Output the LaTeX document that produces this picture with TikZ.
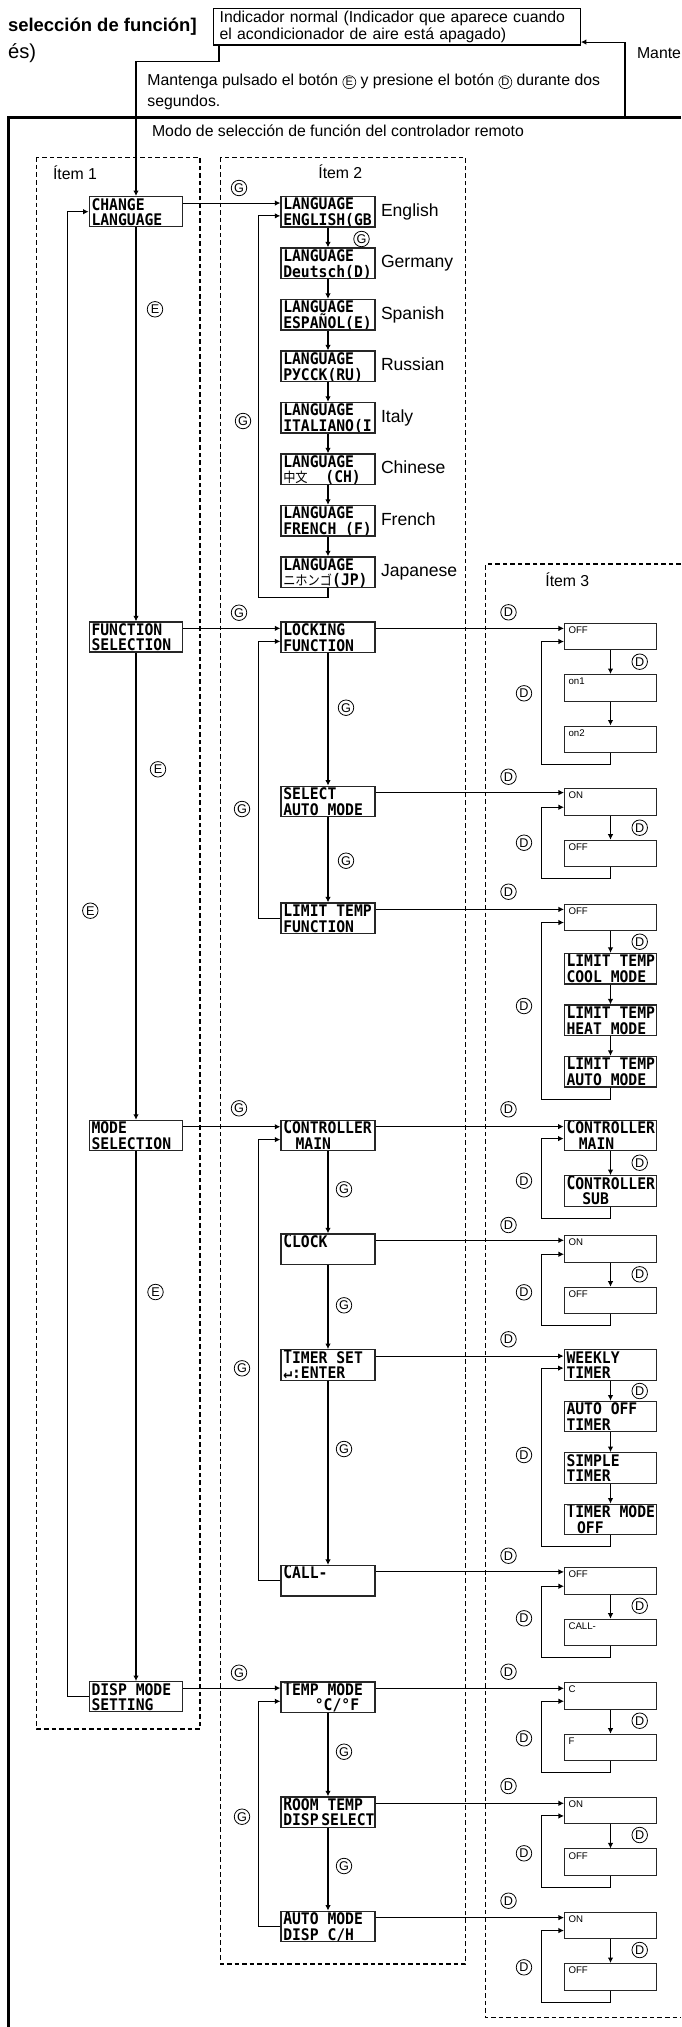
\documentclass[tikz,border=0pt]{standalone}
\usepackage{fontspec}
\setmainfont{Liberation Sans}
\newfontfamily\lcdfont[FakeStretch=0.92]{DejaVu Sans Mono}
\newfontfamily\cjkfont[FakeStretch=0.9,Scale=0.85]{Noto Sans CJK JP}
\usetikzlibrary{positioning,arrows.meta,calc}

\newcommand\tallch[1]{\scalebox{1}[1.2]{#1}}
\newcommand\cjk[1]{{\cjkfont\mdseries #1}}
\newcommand\keyin[1]{\tikz[baseline=(k.base)]\node[circle,draw,line width=0.35pt,inner sep=0pt,minimum size=0.26cm,font=\fontsize{6.3}{6.3}\selectfont] (k) {#1};}

\tikzset{
  lcdline/.style={anchor=base west, inner sep=0pt, minimum size=0pt, draw=none, font=\lcdfont\bfseries\fontsize{9.1}{9.1}\selectfont},
  lcdbox/.style 2 args={draw=black!85, line width=0.75pt, minimum width=1.88cm, minimum height=0.61cm, inner sep=0pt,
    path picture={
      \node[lcdline] at ([xshift=0.9pt,yshift=-7.6pt]path picture bounding box.north west) {#1};
      \node[lcdline] at ([xshift=0.9pt,yshift=-16.5pt]path picture bounding box.north west) {#2};
    }},
  valbox/.style={draw=black!85, line width=0.6pt, minimum width=1.84cm, minimum height=0.53cm, inner sep=0pt,
    path picture={\node[anchor=base west, inner sep=0pt, minimum size=0pt, draw=none, font=\fontsize{5.5}{5.5}\selectfont] at ([xshift=2pt,yshift=-5.8pt]path picture bounding box.north west) {#1};}},
  btn/.style={circle, draw, line width=0.45pt, inner sep=0pt, minimum size=0.31cm, font=\fontsize{7.2}{7.2}\selectfont},
  arr/.style={line width=0.6pt, -{Latex[length=0.11cm, width=0.11cm]}},
  itembox/.style={dash pattern=on 2.6pt off 1.7pt, line width=0.85pt},
  lang/.style={right=0.1cm of #1, inner sep=0pt, text height=7.2pt, text depth=2pt, font=\fontsize{10}{10}\selectfont},
  txt/.style={inner sep=0pt, font=\fontsize{9}{9}\selectfont},
}

\begin{document}
\begin{tikzpicture}[x=0.02cm, y=0.02cm, node distance=1.03cm]
    \useasboundingbox (0,0) rectangle (681,-2027);

    % heading, cut by the page edge
    \node[anchor=base east, inner sep=0pt, font=\bfseries\fontsize{10.5}{10.5}\selectfont] (head) at (197,-32) {selección de función]};
    \node[anchor=base west, inner sep=0pt, font=\fontsize{11.5}{11.5}\selectfont] (headb) at (7.8,-59) {és)};
    \node[draw, line width=0.6pt, anchor=north west, inner xsep=3.3pt, inner ysep=0pt, text width=7.1cm, minimum height=0.724cm, align=left, font=\fontsize{9}{8.2}\selectfont] (ind) at (213.3,-8.3) {Indicador normal (Indicador que aparece cuando\\el acondicionador de aire está apagado)};
    \node[anchor=north west, align=left, inner sep=0pt, font=\fontsize{9}{11.4}\selectfont] (hold) at (147,-74) {Mantenga pulsado el botón \keyin{E} y presione el botón \keyin{D} durante dos\\segundos.};
    \node[txt, anchor=base west] (mante) at (636.7,-59) {Mante};
    \node[txt, anchor=base west] (modotxt) at (151.7,-136.5) {Modo de selección de función del controlador remoto};

    % frame and item boxes
    \draw[line width=1.4pt] (681,-117.5) -| (8.3,-2027);
    \draw[itembox] (36.7,-157.3) rectangle (200,-1729);
    \draw[itembox] (220.5,-157.3) rectangle (465.5,-1964);
    \draw[itembox] (681,-564) -| (485.7,-2017.7) -- (681,-2017.7);
    \node[txt, anchor=base west] (it1) at (52.7,-179.5) {Ítem 1};
    \node[txt, anchor=base west] (it2) at (318,-179) {Ítem 2};
    \node[txt, anchor=base west] (it3) at (545,-586.5) {Ítem 3};

    % Item 1
    \node[lcdbox={CHANGE}{LANGUAGE}, minimum width=1.87cm, minimum height=0.6cm] (chg) at (136,-211.7) {};
    \node[lcdbox={FUNCTION}{SELECTION}, minimum width=1.87cm, minimum height=0.6cm] (fun) at (136,-637) {};
    \node[lcdbox={MODE}{SELECTION}, minimum width=1.87cm, minimum height=0.6cm] (mode) at (136,-1135.4) {};
    \node[lcdbox={DISP MODE}{SETTING}, minimum width=1.87cm, minimum height=0.6cm] (disp) at (136,-1696.7) {};

    % Item 2: languages
    \node[lcdbox={LANGUAGE}{ENGLISH(GB)}] (en) at (328,-211.8) {};
    \node[lcdbox={LANGUAGE}{Deutsch(D)}, below of=en] (de) {};
    \node[lcdbox={LANGUAGE}{ESPAÑOL(E)}, below of=de] (es) {};
    \node[lcdbox={LANGUAGE}{РУССК(RU)}, below of=es] (ru) {};
    \node[lcdbox={LANGUAGE}{ITALIANO(I)}, below of=ru] (itl) {};
    \node[lcdbox={LANGUAGE}{\cjk{中文}\ \ (CH)}, below of=itl] (zh) {};
    \node[lcdbox={LANGUAGE}{FRENCH (F)}, below of=zh] (fr) {};
    \node[lcdbox={LANGUAGE}{\cjk{ニホンゴ}(JP)}, below of=fr] (ja) {};
    \node[lang=en] (enl) {English};
    \node[lang=de] (del) {Germany};
    \node[lang=es] (esl) {Spanish};
    \node[lang=ru] (rul) {Russian};
    \node[lang=itl] (itll) {Italy};
    \node[lang=zh] (zhl) {Chinese};
    \node[lang=fr] (frl) {French};
    \node[lang=ja] (jal) {Japanese};

    % Item 2: functions and modes
    \node[lcdbox={\tallch{L}OCKING}{FUNCTION}] (lock) at (328,-637.3) {};
    \node[lcdbox={SELECT}{AUTO MODE}] (sel) at (328,-801.5) {};
    \node[lcdbox={\tallch{L}IMIT TEMP}{FUNCTION}] (lim) at (328,-918.3) {};
    \node[lcdbox={\tallch{C}ONTROLLER}{\hspace{7pt}MAIN}] (ctrl) at (328,-1135.5) {};
    \node[lcdbox={\tallch{C}LOCK}{}] (clk) at (328,-1249.2) {};
    \node[lcdbox={\tallch{T}IMER SET}{\char"21B5:ENTER}] (tmr) at (328,-1365) {};
    \node[lcdbox={\tallch{C}ALL-}{}] (call) at (328,-1580.8) {};
    \node[lcdbox={\tallch{T}EMP MODE}{\hspace{18pt}°C/°F}] (temp) at (328,-1697.2) {};
    \node[lcdbox={\tallch{R}OOM TEMP}{DISP\,SELECT}] (room) at (328,-1812.2) {};
    \node[lcdbox={\tallch{A}UTO MODE}{DISP C/H}] (auto) at (328,-1926.5) {};

    % Item 3: settings
    \node[valbox={OFF}] (s1a) at (610.5,-636.3) {};
    \node[valbox={on1}, below of=s1a] (s1b) {};
    \node[valbox={on2}, below of=s1b] (s1c) {};
    \node[valbox={ON}] (s2a) at (610.5,-802) {};
    \node[valbox={OFF}, below of=s2a] (s2b) {};
    \node[valbox={OFF}] (s3a) at (610.5,-917.3) {};
    \node[lcdbox={\tallch{L}IMIT TEMP}{COOL MODE}, minimum width=1.85cm, below of=s3a] (s3b) {};
    \node[lcdbox={\tallch{L}IMIT TEMP}{HEAT MODE}, minimum width=1.85cm, below of=s3b] (s3c) {};
    \node[lcdbox={\tallch{L}IMIT TEMP}{AUTO MODE}, minimum width=1.85cm, below of=s3c] (s3d) {};
    \node[lcdbox={\tallch{C}ONTROLLER}{\hspace{7pt}MAIN}, minimum width=1.85cm] (s4a) at (610.5,-1135.5) {};
    \node[lcdbox={\tallch{C}ONTROLLER}{\hspace{9pt}SUB}, minimum width=1.85cm, below of=s4a, node distance=1.11cm] (s4b) {};
    \node[valbox={ON}] (s5a) at (610.5,-1249) {};
    \node[valbox={OFF}, below of=s5a] (s5b) {};
    \node[lcdbox={WEEKLY}{TIMER}, minimum width=1.85cm] (s6a) at (610.5,-1365) {};
    \node[lcdbox={AUTO OFF}{TIMER}, minimum width=1.85cm, below of=s6a] (s6b) {};
    \node[lcdbox={SIMPLE}{TIMER}, minimum width=1.85cm, below of=s6b] (s6c) {};
    \node[lcdbox={\tallch{T}IMER MODE}{\hspace{6pt}OFF}, minimum width=1.85cm, below of=s6c] (s6d) {};
    \node[valbox={OFF}] (s7a) at (610.5,-1581) {};
    \node[valbox={CALL-}, below of=s7a] (s7b) {};
    \node[valbox={C}] (s8a) at (610.5,-1696) {};
    \node[valbox={F}, below of=s8a] (s8b) {};
    \node[valbox={ON}] (s9a) at (610.5,-1810.7) {};
    \node[valbox={OFF}, below of=s9a] (s9b) {};
    \node[valbox={ON}] (s10a) at (610.5,-1925.3) {};
    \node[valbox={OFF}, below of=s10a] (s10b) {};

    % entry from the normal display and back
    \coordinate (bend) at (219,-61.7);
    \coordinate (ret) at (625,-117.5);
    \draw[arr] (ind.south -| bend) -- (bend) -| (chg.north);
    \draw[arr] (ret) |- ([yshift=0.07cm]ind.south east);

    % steps down each column
    \foreach \a/\b in {chg/fun, fun/mode, mode/disp, en/de, de/es, es/ru, ru/itl, itl/zh, zh/fr, fr/ja,
        lock/sel, sel/lim, ctrl/clk, clk/tmr, tmr/call, temp/room, room/auto,
        s1a/s1b, s1b/s1c, s2a/s2b, s3a/s3b, s3b/s3c, s3c/s3d, s4a/s4b, s5a/s5b,
        s6a/s6b, s6b/s6c, s6c/s6d, s7a/s7b, s8a/s8b, s9a/s9b, s10a/s10b}
      \draw[arr] (\a) -- (\b);

    % steps across to the next item
    \foreach \a/\b in {chg/en, fun/lock, mode/ctrl, disp/temp, lock/s1a, sel/s2a, lim/s3a, ctrl/s4a,
        clk/s5a, tmr/s6a, call/s7a, temp/s8a, room/s9a, auto/s10a}
      \draw[arr] ([yshift=-0.14cm]\a.north east) -- ([yshift=-0.14cm]\a.north east -| \b.west);

    % loops back to the top
    \draw[arr] (disp.west) -| ([xshift=-0.42cm]chg.west) -- (chg.west);
    \draw[arr] (ja.south) -- ++(0cm,-0.18cm) -| ([xshift=-0.43cm,yshift=-0.4cm]en.north west) -- ([yshift=-0.4cm]en.north west);
    \foreach \f/\l in {lock/lim, ctrl/call, temp/auto}
      \draw[arr] (\l.west) -| ([xshift=-0.43cm,yshift=-0.4cm]\f.north west) -- ([yshift=-0.4cm]\f.north west);
    \foreach \f/\l in {s1a/s1c, s2a/s2b, s3a/s3d, s4a/s4b, s5a/s5b, s6a/s6d, s7a/s7b, s8a/s8b, s9a/s9b, s10a/s10b}
      \draw[arr] (\l.south) -- ++(0cm,-0.23cm) -| ([xshift=-0.45cm,yshift=-0.38cm]\f.north west) -- ([yshift=-0.38cm]\f.north west);

    % button marks
    \foreach \n/\x/\y in {g1/239/188, g2/239/612.7, g3/239/1108.3, g4/239/1672.7, g5/361.5/239,
        g6/243/421, g7/242/809, g8/242/1368.3, g9/242/1816.7, g10/346/707.7, g11/346/860.7,
        g12/344/1189.3, g13/344/1305.3, g14/344/1449, g15/344/1751.7, g16/344/1866}
      \node[btn] (\n) at (\x,-\y) {G};
    \foreach \n/\x/\y in {e1/155/309.3, e2/158/769.3, e3/155.5/1292, e4/90.3/910.7}
      \node[btn] (\n) at (\x,-\y) {E};
    \foreach \n/\y in {d1/612.3, d2/776.7, d3/891.7, d4/1109.3, d5/1225, d6/1339.3, d7/1555.7,
        d8/1671.7, d9/1786, d10/1900.7}
      \node[btn] (\n) at (508.5,-\y) {D};
    \foreach \n/\y in {r1/661.7, r2/827.7, r3/941.7, r4/1162.7, r5/1274.3, r6/1391, r7/1605.7,
        r8/1720.7, r9/1835, r10/1950}
      \node[btn] (\n) at (639.7,-\y) {D};
    \foreach \n/\y in {l1/693.3, l2/842.7, l3/1006, l4/1180.7, l5/1292.3, l6/1455, l7/1618.3,
        l8/1738.3, l9/1853.3, l10/1967.3}
      \node[btn] (\n) at (524,-\y) {D};
\end{tikzpicture}
\end{document}
